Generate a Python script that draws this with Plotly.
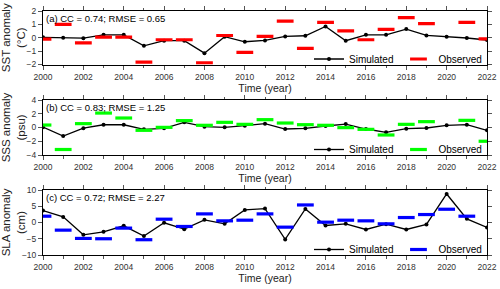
import plotly.graph_objects as go

years = list(range(2000, 2023))

sst_sim = [0.03, 0.0, -0.03, 0.22, 0.22, -0.6, -0.22, -0.22, -1.15, 0.08, -0.3, -0.2, 0.1, 0.15, 0.85,
           -0.22, 0.22, 0.22, 0.65, 0.17, 0.08, -0.02, -0.17]
sst_obs = [-0.1, 1.0, -0.38, 0.05, 0.05, -1.82, -0.15, -0.15, -1.88, 0.17, -1.1, 0.1, 1.25, -0.8, 1.15,
           0.52, -0.15, 0.62, 1.5, 1.05, None, 1.15, -0.08]

sss_sim = [0.05, -1.25, -0.1, 0.4, 0.4, -0.27, -0.12, 0.75, 0.12, 0.02, 0.27, 0.56, -0.22, -0.12, 0.22,
           0.5, -0.22, -0.7, -0.17, -0.07, 0.32, 0.41, -0.41]
sss_obs = [0.36, -3.2, 0.56, 2.1, 1.38, -0.41, 0.02, 1.0, 0.32, 0.75, 0.46, 1.14, 0.65, 0.41, 0.32,
           -0.02, -0.27, -1.09, 0.46, 0.85, None, 1.04, -2.0]

sla_sim = [3.67, 1.73, -3.78, -2.86, -1.02, -4.18, -0.1, -2.04, 0.82, -0.41, 3.88, 4.29, -5.2, 4.18, -0.92,
           -0.41, -2.14, -0.51, -2.14, -0.61, 8.78, 1.12, -1.53]
sla_obs = [1.94, -2.35, -4.9, -5.0, -1.73, -5.3, 1.02, -1.22, 2.65, 0.51, 0.71, 2.65, -1.43, 5.4, 0.1,
           0.71, 0.51, -0.41, 1.53, 2.45, 4.08, 1.94, None]

panels = [
    dict(sim=sst_sim, obs=sst_obs, color="#ff0000", title="SST anomaly<br>(°C)", rng=[-2, 2], dtick=1,
         label="(a) CC = 0.74; RMSE = 0.65"),
    dict(sim=sss_sim, obs=sss_obs, color="#00ff00", title="SSS anomaly<br>(psu)", rng=[-4, 4], dtick=2,
         label="(b) CC = 0.83; RMSE = 1.25"),
    dict(sim=sla_sim, obs=sla_obs, color="#0000ff", title="SLA anomaly<br>(cm)", rng=[-10, 10], dtick=5,
         label="(c) CC = 0.72; RMSE = 2.27"),
]

H = 289
W = 500
ML, MR = 43, 13
# pixel extents (top, bottom) of each panel
pix = [(11, 64.5), (100, 155), (190, 255)]

fig = go.Figure()
font_family = "Liberation Sans, Arial, sans-serif"

for i, p in enumerate(panels):
    n = i + 1
    xa = "x" if n == 1 else f"x{n}"
    ya = "y" if n == 1 else f"y{n}"
    lg = "legend" if n == 1 else f"legend{n}"
    fig.add_trace(go.Scatter(
        x=years, y=p["sim"], mode="lines+markers", name="Simulated",
        line=dict(color="black", width=1.3), marker=dict(color="black", size=4),
        xaxis=xa, yaxis=ya, legend=lg))
    fig.add_trace(go.Scatter(
        x=years, y=p["obs"], mode="markers", name="Observed",
        marker=dict(symbol="line-ew", size=12, line=dict(color=p["color"], width=3.2), color=p["color"]),
        xaxis=xa, yaxis=ya, legend=lg))

    top, bot = pix[i]
    dom = [1 - bot / H, 1 - top / H]
    axis_common = dict(showline=True, linecolor="black", linewidth=1, mirror="ticks",
                       ticks="outside", ticklen=4, tickcolor="#555", showgrid=False, zeroline=False,
                       automargin=False,
                       tickfont=dict(size=8.5, color="#333", family=font_family))
    fig.update_layout(**{
        ("xaxis" if n == 1 else f"xaxis{n}"): dict(
            domain=[0, 1], anchor=ya, range=[2000, 2022], dtick=2, tick0=2000,
            minor=dict(dtick=1, ticks="outside", ticklen=2.5, tickcolor="#555"),
            title=dict(text="Time (year)", font=dict(size=10.5, color="#222", family=font_family), standoff=2),
            **axis_common),
        ("yaxis" if n == 1 else f"yaxis{n}"): dict(
            domain=dom, anchor=xa, range=p["rng"], dtick=p["dtick"],
            title=dict(text=p["title"], font=dict(size=11.5, color="#222", family=font_family), standoff=4),
            **axis_common),
        lg: dict(x=1.0, y=dom[0] - 9 / H, xanchor="right", yanchor="bottom", orientation="h",
                 bgcolor="rgba(0,0,0,0)", font=dict(size=10, color="black", family=font_family),
                 itemwidth=30, tracegroupgap=0),
    })
    fig.add_annotation(text=p["label"], xref=f"{xa} domain", yref=f"{ya} domain", x=0, y=1,
                       xanchor="left", yanchor="top", showarrow=False, xshift=1, yshift=0,
                       font=dict(size=9.5, color="black", family=font_family))

fig.update_layout(width=W, height=H, margin=dict(l=ML, r=MR, t=0, b=0),
                  paper_bgcolor="white", plot_bgcolor="white", showlegend=True,
                  font=dict(family=font_family))

fig.write_html("out.html", config={"displayModeBar": False},
               post_script="document.body.style.margin='0';document.body.style.padding='0';"
                           "document.body.style.overflow='hidden';")
